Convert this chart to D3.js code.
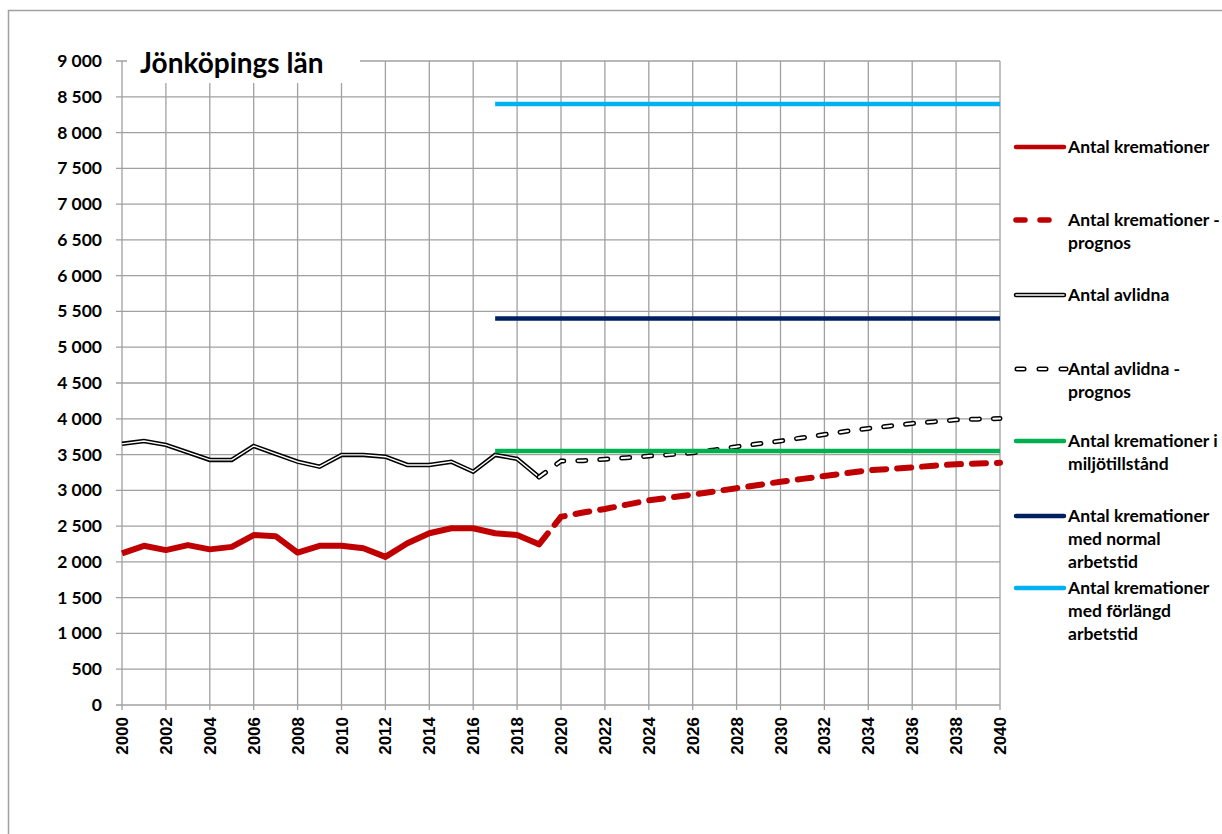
<!DOCTYPE html>
<html>
<head>
<meta charset="utf-8">
<script src="https://cdn.jsdelivr.net/npm/d3@7"></script>
<style>
  body { margin: 0; background: #fff; }
  text { font-family: Lato, "Open Sans", sans-serif; font-weight: bold; fill: #000; }
  .xlab { font-family: "Liberation Sans", Arial, sans-serif; }
</style>
</head>
<body>
<svg width="1222" height="834"></svg>
<script>
const years = d3.range(2000, 2020)
const kremationer = [2120, 2225, 2165, 2235, 2175, 2210, 2375, 2360, 2130, 2225,
  2225, 2190, 2070, 2260, 2400, 2470, 2470, 2400, 2375, 2245]
const avlidna = [3650, 3690, 3635, 3530, 3425, 3425, 3620, 3510, 3400, 3330,
  3495, 3495, 3470, 3355, 3355, 3400, 3260, 3495, 3440, 3185]

const prognosYears = d3.range(2019, 2041)
const kremPrognos = [2245, 2630, 2690, 2740, 2800, 2860, 2900, 2940, 2985, 3030, 3075,
  3120, 3160, 3200, 3240, 3280, 3300, 3320, 3345, 3365, 3375, 3385]
const avlidnaPrognos = [3185, 3410, 3415, 3435, 3455, 3480, 3500, 3525, 3565, 3610, 3650,
  3690, 3735, 3780, 3825, 3865, 3900, 3935, 3960, 3985, 3995, 4005]

const capYears = [2017, 2040]
const miljotillstand = 3550
const normalArbetstid = 5400
const forlangdArbetstid = 8400

const yTicks = d3.range(0, 9001, 500)
const xTicks = d3.range(2000, 2041, 2)

const svg = d3.select("svg")

// outer frame
svg.append("path")
  .attr("d", "M8.5,834 V10.5 H1222")
  .attr("fill", "none")
  .attr("stroke", "#a0a0a0")
  .attr("stroke-width", 1.5)

const x = d3.scaleLinear().domain([2000, 2040]).range([122, 1000])
const y = d3.scaleLinear().domain([0, 9000]).range([705, 61])

const grid = svg.append("g")

grid.selectAll("line.h")
  .data(yTicks)
  .enter()
  .append("line")
  .attr("class", "h")
  .attr("x1", 116)
  .attr("x2", 1000)
  .attr("y1", d => y(d))
  .attr("y2", d => y(d))
  .attr("stroke", "#a0a0a0")
  .attr("stroke-width", 1.3)

grid.selectAll("line.v")
  .data(xTicks)
  .enter()
  .append("line")
  .attr("class", "v")
  .attr("x1", d => x(d))
  .attr("x2", d => x(d))
  .attr("y1", y(9000))
  .attr("y2", 710)
  .attr("stroke", "#a0a0a0")
  .attr("stroke-width", 1.3)

svg.selectAll("text.ylab")
  .data(yTicks)
  .enter()
  .append("text")
  .attr("class", "ylab")
  .attr("x", 102)
  .attr("y", d => y(d) + 6)
  .attr("text-anchor", "end")
  .style("font-size", "17.5px")
  .text(d => d3.format(",")(d).replace(",", " "))

svg.selectAll("text.xlab")
  .data(xTicks)
  .enter()
  .append("text")
  .attr("class", "xlab")
  .attr("transform", d => `translate(${x(d) + 6}, 717) rotate(-90)`)
  .attr("text-anchor", "end")
  .style("font-size", "17px")
  .text(d => d)

// title box
svg.append("rect")
  .attr("x", 127)
  .attr("y", 45)
  .attr("width", 233)
  .attr("height", 38)
  .attr("fill", "#fff")

svg.append("text")
  .attr("x", 140)
  .attr("y", 73)
  .style("font-size", "28px")
  .text("Jönköpings län")

const line = d3.line()
  .x(d => x(d[0]))
  .y(d => y(d[1]))

const red = "#c00000"

// horizontal capacity lines
const caps = [
  { v: forlangdArbetstid, c: "#00b0f0" },
  { v: normalArbetstid, c: "#002060" },
  { v: miljotillstand, c: "#00b050" }
]

// avlidna (double line)
const avlPts = years.map((yr, i) => [yr, avlidna[i]])
svg.append("path").attr("d", line(avlPts))
  .attr("fill", "none").attr("stroke", "#000").attr("stroke-width", 4.5)
svg.append("path").attr("d", line(avlPts))
  .attr("fill", "none").attr("stroke", "#fff").attr("stroke-width", 1.4)

const avlProgPts = prognosYears.map((yr, i) => [yr, avlidnaPrognos[i]])
svg.append("path").attr("d", line(avlProgPts))
  .attr("fill", "none").attr("stroke", "#000").attr("stroke-width", 5)
  .attr("stroke-dasharray", "8 14").attr("stroke-linecap", "round")
svg.append("path").attr("d", line(avlProgPts))
  .attr("fill", "none").attr("stroke", "#fff").attr("stroke-width", 2)
  .attr("stroke-dasharray", "8 14").attr("stroke-linecap", "round")

caps.forEach(cp => {
  svg.append("path")
    .attr("d", line(capYears.map(yr => [yr, cp.v])))
    .attr("fill", "none")
    .attr("stroke", cp.c)
    .attr("stroke-width", 4.5)
})

// kremationer
svg.append("path")
  .attr("d", line(years.map((yr, i) => [yr, kremationer[i]])))
  .attr("fill", "none").attr("stroke", red).attr("stroke-width", 6)
  .attr("stroke-linejoin", "round")

svg.append("path")
  .attr("d", line(prognosYears.map((yr, i) => [yr, kremPrognos[i]])))
  .attr("fill", "none").attr("stroke", red).attr("stroke-width", 6)
  .attr("stroke-dasharray", "14 11").attr("stroke-linecap", "round")

// legend
const legend = [
  { y: 147, lines: ["Antal kremationer"], c: red, type: "solid" },
  { y: 220, lines: ["Antal kremationer -", "prognos"], c: red, type: "dash" },
  { y: 295, lines: ["Antal avlidna"], c: "#000", type: "double" },
  { y: 369, lines: ["Antal avlidna -", "prognos"], c: "#000", type: "doubledash" },
  { y: 441, lines: ["Antal kremationer i", "miljötillstånd"], c: "#00b050", type: "solid" },
  { y: 516, lines: ["Antal kremationer", "med normal", "arbetstid"], c: "#002060", type: "solid" },
  { y: 588, lines: ["Antal kremationer", "med förlängd", "arbetstid"], c: "#00b0f0", type: "solid" }
]

const lg = svg.selectAll("g.leg")
  .data(legend)
  .enter()
  .append("g")
  .attr("class", "leg")
  .attr("transform", d => `translate(0, ${d.y})`)

lg.each(function(d) {
  const g = d3.select(this)
  if (d.type === "solid") {
    g.append("line").attr("x1", 1016).attr("x2", 1064).attr("y1", 0).attr("y2", 0)
      .attr("stroke", d.c).attr("stroke-width", 4.5).attr("stroke-linecap", "round")
  } else if (d.type === "dash") {
    g.append("line").attr("x1", 1016).attr("x2", 1062).attr("y1", 0).attr("y2", 0)
      .attr("stroke", d.c).attr("stroke-width", 5.5).attr("stroke-linecap", "round")
      .attr("stroke-dasharray", "9 15")
  } else if (d.type === "double") {
    g.append("line").attr("x1", 1016).attr("x2", 1064).attr("y1", 0).attr("y2", 0)
      .attr("stroke", "#000").attr("stroke-width", 4.5).attr("stroke-linecap", "round")
    g.append("line").attr("x1", 1016).attr("x2", 1064).attr("y1", 0).attr("y2", 0)
      .attr("stroke", "#fff").attr("stroke-width", 1.4).attr("stroke-linecap", "round")
  } else {
    g.append("line").attr("x1", 1017).attr("x2", 1066).attr("y1", 0).attr("y2", 0)
      .attr("stroke", "#000").attr("stroke-width", 5).attr("stroke-linecap", "round")
      .attr("stroke-dasharray", "7 15")
    g.append("line").attr("x1", 1017).attr("x2", 1066).attr("y1", 0).attr("y2", 0)
      .attr("stroke", "#fff").attr("stroke-width", 2).attr("stroke-linecap", "round")
      .attr("stroke-dasharray", "7 15")
  }
  g.selectAll("text")
    .data(d.lines)
    .enter()
    .append("text")
    .attr("x", 1068)
    .attr("y", (t, i) => 6 + i * 23)
    .style("font-size", "17.5px")
    .text(t => t)
})
</script>
</body>
</html>
